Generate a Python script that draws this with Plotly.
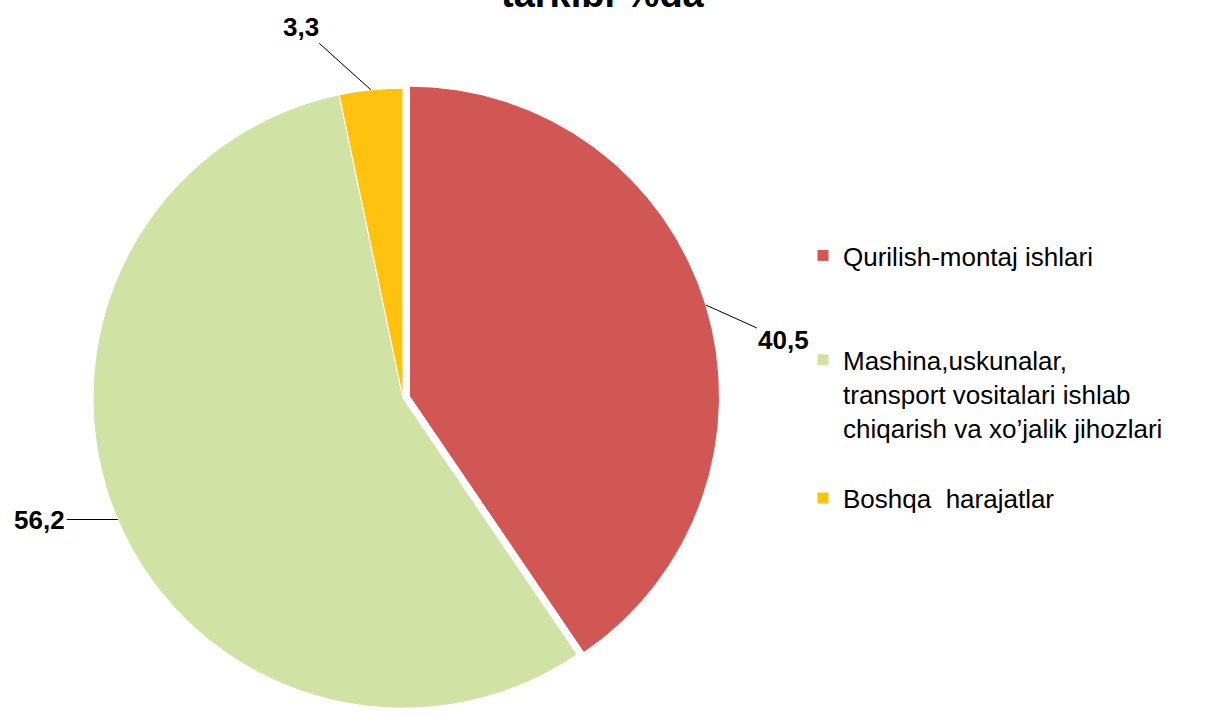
import math
import plotly.graph_objects as go

# slice data (clockwise from 12 o'clock)
labels = [
    "Qurilish-montaj ishlari<br> <br> ",
    "Mashina,uskunalar,<br>transport vositalari ishlab<br>chiqarish va xo’jalik jihozlari<br> ",
    "Boshqa  harajatlar",
]
values = [40.5, 56.2, 3.3]
value_text = ["40,5", "56,2", "3,3"]
colors = ["#D15755", "#D1E2A5", "#FFC20E"]
pulls = [0.022, 0, 0]

W, H = 1205, 715
cx_px, r_px = 403, 310
pie_h = 2 * r_px * (1 + max(pulls))
cy_px = H - pie_h / 2

dom_x = [(cx_px - pie_h / 2) / W, (cx_px + pie_h / 2) / W]
dom_y = [0, pie_h / H]

fig = go.Figure(go.Pie(
    labels=labels,
    values=values,
    sort=False,
    direction="clockwise",
    rotation=0,
    pull=pulls,
    marker=dict(colors=colors, line=dict(color="white", width=1)),
    textinfo="none",
    hoverinfo="label+value",
    domain=dict(x=dom_x, y=dom_y),
))

# data labels with leader lines, tip on the slice edge
label_offsets = [(78, 35), (-78, 0), (-70, -63)]
total = sum(values)
start = 0
for v, txt, p, (ax, ay) in zip(values, value_text, pulls, label_offsets):
    mid = (start + v / 2) / total * 2 * math.pi
    start += v
    rr = r_px * (1 + p)
    tx = cx_px + rr * math.sin(mid)
    ty = cy_px - rr * math.cos(mid)
    fig.add_annotation(
        x=tx / W, y=1 - ty / H, xref="paper", yref="paper",
        text="<b>" + txt + "</b>", showarrow=True, arrowhead=0, arrowwidth=1,
        arrowcolor="black", ax=ax, ay=ay,
        font=dict(size=26, color="black", family="Arial, Liberation Sans"),
    )

# title, partly cut off by the top edge as in the source
fig.add_annotation(
    x=0.5, y=1, xref="paper", yref="paper", showarrow=False,
    text="<b>tarkibi %da</b>", yanchor="middle", yshift=6,
    font=dict(size=38, color="black", family="Arial, Liberation Sans"),
)

fig.update_layout(
    width=W, height=H,
    margin=dict(l=0, r=0, t=0, b=0),
    paper_bgcolor="white",
    font=dict(family="Arial, Liberation Sans", color="black"),
    legend=dict(
        x=803 / W, y=1 - 232 / H, xanchor="left", yanchor="top",
        font=dict(size=26), valign="top", bgcolor="rgba(0,0,0,0)",
    ),
)

fig.write_html("out.html", config={"displayModeBar": False},
               post_script="document.body.style.margin='0';")
